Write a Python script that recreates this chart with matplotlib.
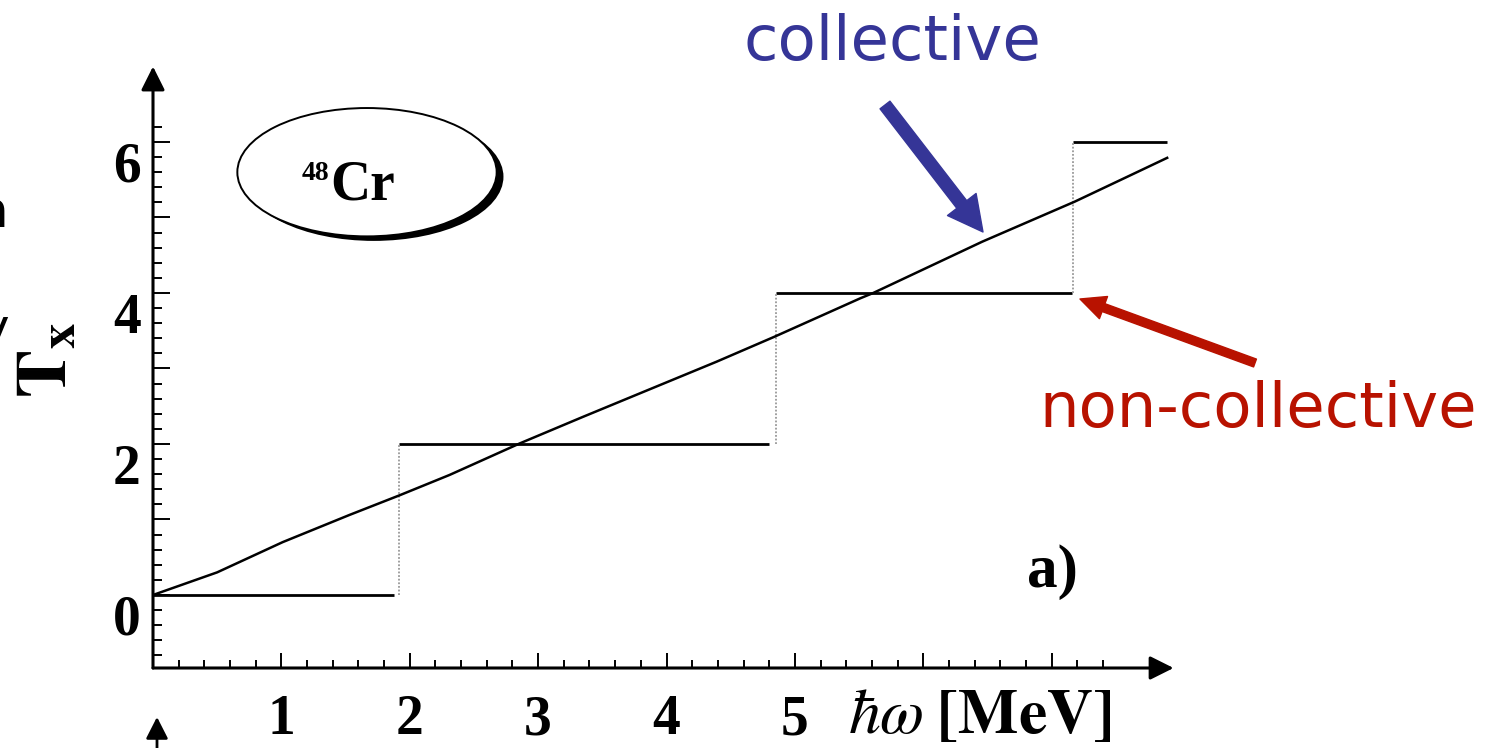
import matplotlib
matplotlib.use("Agg")
import matplotlib.pyplot as plt
from matplotlib.patches import Ellipse
from matplotlib.ticker import FixedLocator, FixedFormatter
from matplotlib.transforms import ScaledTranslation

# collective rotation: smooth curve
hw_coll = [0.0, 0.50, 1.01, 1.53, 1.92, 2.31, 2.86, 3.35, 3.82, 4.39, 4.84, 5.51, 5.61, 6.46, 7.18, 7.59, 7.90]
tx_coll = [0.0, 0.30, 0.70, 1.06, 1.32, 1.59, 2.01, 2.36, 2.69, 3.09, 3.42, 3.93, 4.00, 4.68, 5.21, 5.54, 5.79]

# non-collective: staircase
step_level = [0, 2, 4, 6]
step_start = [0.0, 1.92, 4.85, 7.17]
step_end = [1.88, 4.80, 7.16, 7.90]
jump_at = [1.92, 4.85, 7.17]

x_major = [1, 2, 3, 4, 5, 6, 7]
x_labels = ["1", "2", "3", "4", "5", "", ""]
x_minor = [i / 5 for i in range(1, 38) if i % 5]
y_major = [0, 1, 2, 3, 4, 5, 6]
y_labels = ["0", "", "2", "", "4", "", "6"]
y_minor = [i / 5 for i in range(-4, 32) if i % 5]

SERIF = "Liberation Serif"
BLUE = "#353597"
RED = "#b81200"

W, H = 1499, 748
fig = plt.figure(figsize=(W / 100, H / 100), dpi=100)
ax = fig.add_axes([153 / W, 80 / H, (1180 - 153) / W, 601.5 / H])
ax.set_xlim(0, 8.0)
ax.set_ylim(-0.967, 7.0)
for s in ax.spines.values():
    s.set_visible(False)

# data
for lvl, a, b in zip(step_level, step_start, step_end):
    ax.plot([a, b], [lvl, lvl], color="black", lw=2.0, solid_capstyle="butt")
for k, xj in enumerate(jump_at):
    ax.plot([xj, xj], [step_level[k], step_level[k + 1]], color="#999999", lw=1.3, ls=(0, (1, 1)))
ax.plot(hw_coll, tx_coll, color="black", lw=1.8)

# axes with arrow heads
arrow_ax = dict(arrowstyle="-|>,head_length=0.6,head_width=0.3", color="black", lw=2.2,
                mutation_scale=24, shrinkA=0, shrinkB=0)
ax.annotate("", xy=(7.95, 0), xytext=(0, 0), xycoords=("data", "axes fraction"),
            arrowprops=arrow_ax, annotation_clip=False)
ax.annotate("", xy=(0, 1.0), xytext=(0, 0), xycoords="axes fraction",
            arrowprops=arrow_ax, annotation_clip=False)

ax.xaxis.set_major_locator(FixedLocator(x_major))
ax.xaxis.set_major_formatter(FixedFormatter(x_labels))
ax.xaxis.set_minor_locator(FixedLocator(x_minor))
ax.yaxis.set_major_locator(FixedLocator(y_major))
ax.yaxis.set_major_formatter(FixedFormatter(y_labels))
ax.yaxis.set_minor_locator(FixedLocator(y_minor))
ax.tick_params(which="both", direction="in", width=1.4, color="black")
ax.tick_params(axis="x", which="major", length=11, pad=19)
ax.tick_params(axis="x", which="minor", length=6)
ax.tick_params(axis="y", which="major", length=12, pad=9)
ax.tick_params(axis="y", which="minor", length=6.5)
for lab in ax.get_xticklabels() + ax.get_yticklabels():
    lab.set_fontfamily(SERIF)
    lab.set_fontweight("bold")
    lab.set_fontsize(40)
shift = ScaledTranslation(0, -0.20, fig.dpi_scale_trans)
for lab in ax.get_yticklabels():
    lab.set_transform(lab.get_transform() + shift)

fig.text(980 / W, 1 - 715 / H, r"$\hbar\omega\;\mathbf{[MeV]}$", fontsize=46,
         math_fontfamily="stix", ha="center", va="center")
fig.text(47 / W, 1 - 360 / H, r"$\mathbf{T}_{\mathbf{x}}$", fontsize=52, rotation=90,
         ha="center", va="center", math_fontfamily="stix")
fig.text(1052 / W, 1 - 572 / H, "a)", family=SERIF, weight="bold", fontsize=44,
         ha="center", va="center")

# nucleus badge
ax.add_patch(Ellipse((1.72, 5.54), 2.02, 1.70, facecolor="black", edgecolor="none", zorder=4))
ax.add_patch(Ellipse((1.667, 5.60), 2.02, 1.70, facecolor="white", edgecolor="black", lw=1.4, zorder=5))
fig.text(330 / W, 1 - 200 / H, "Cr", family=SERIF, weight="bold", fontsize=40,
         ha="left", va="baseline", zorder=6)
fig.text(329 / W, 1 - 180 / H, "48", family=SERIF, weight="bold", fontsize=20,
         ha="right", va="baseline", zorder=6)

# annotations
fig.text(892 / W, 1 - 60 / H, "collective", color=BLUE, fontsize=45, family="DejaVu Sans",
         ha="center", va="baseline")
fig.text(1258 / W, 1 - 427 / H, "non-collective", color=RED, fontsize=45, family="DejaVu Sans",
         ha="center", va="baseline")
ax.annotate("", xy=(983, H - 232), xytext=(885, H - 105), xycoords="figure pixels",
            arrowprops=dict(arrowstyle="simple,head_length=2.5,head_width=2.6,tail_width=0.9",
                            color=BLUE, mutation_scale=10, shrinkA=0, shrinkB=0),
            annotation_clip=False)
ax.annotate("", xy=(1080, H - 299), xytext=(1255, H - 363), xycoords="figure pixels",
            arrowprops=dict(arrowstyle="simple,head_length=1.8,head_width=1.7,tail_width=0.6",
                            color=RED, mutation_scale=10, shrinkA=0, shrinkB=0),
            annotation_clip=False)

# cut-off pieces of the slide
fig.text(8 / W, 1 - 227 / H, "n", fontsize=36, family="DejaVu Sans", ha="right", va="baseline")
fig.text(9 / W, 1 - 344 / H, "y", fontsize=36, family="DejaVu Sans", ha="right", va="baseline")
ax.annotate("", xy=(157, H - 717), xytext=(157, -10), xycoords="figure pixels",
            arrowprops=dict(arrowstyle="-|>,head_length=0.55,head_width=0.28", color="black",
                            lw=2, mutation_scale=24, shrinkA=0, shrinkB=0),
            annotation_clip=False)

fig.savefig("out.png", dpi=100)
